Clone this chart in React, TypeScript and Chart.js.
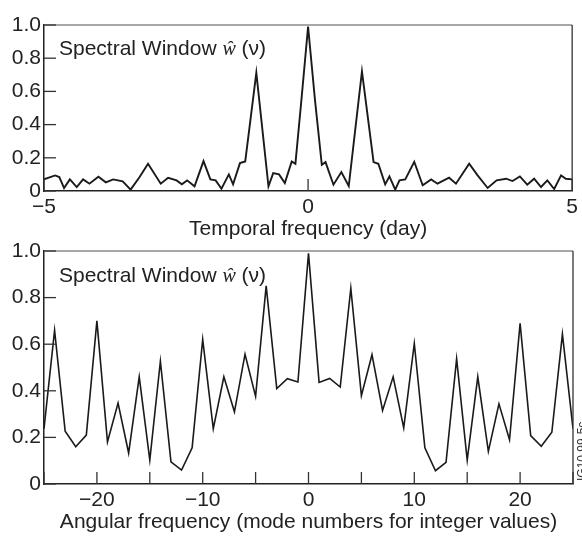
import React, { useEffect, useRef } from "react";
import { Chart, registerables } from "chart.js";

Chart.register(...registerables);

// ---------- data ----------
const temporalFrequency = [
  -5.0, -4.79, -4.71, -4.62, -4.51, -4.38, -4.26, -4.14, -3.97, -3.83, -3.69, -3.51, -3.36, -3.19,
  -3.03, -2.79, -2.65, -2.49, -2.39, -2.29, -2.15, -1.98, -1.85, -1.75, -1.64, -1.5, -1.42, -1.29,
  -1.19, -0.98, -0.75, -0.66, -0.55, -0.44, -0.31, -0.24, -0.12, 0.0, 0.13, 0.26, 0.33,
  0.48, 0.63, 0.77, 1.02, 1.24, 1.33, 1.46, 1.54, 1.65, 1.73, 1.84, 2.01, 2.17, 2.33, 2.45, 2.67,
  2.8, 3.05, 3.21, 3.4, 3.57, 3.75, 3.87, 4.01, 4.15, 4.28, 4.41, 4.53, 4.66, 4.79, 4.88, 5.0,
];
const temporalWindow = [
  0.07, 0.094, 0.084, 0.018, 0.07, 0.024, 0.07, 0.044, 0.086, 0.052, 0.07, 0.058, 0.008, 0.084,
  0.164, 0.044, 0.08, 0.064, 0.04, 0.064, 0.028, 0.18, 0.07, 0.064, 0.014, 0.1, 0.04, 0.168,
  0.178, 0.712, 0.028, 0.108, 0.1, 0.048, 0.178, 0.164, 0.57, 0.99, 0.55, 0.158, 0.174,
  0.038, 0.114, 0.03, 0.72, 0.174, 0.164, 0.04, 0.088, 0.008, 0.064, 0.07, 0.176, 0.034, 0.07, 0.044, 0.08,
  0.044, 0.164, 0.094, 0.018, 0.064, 0.074, 0.06, 0.088, 0.038, 0.074, 0.024, 0.064, 0.012, 0.094, 0.074, 0.07,
];

const modeNumbers = [
  -25, -24, -23, -22, -21, -20, -19, -18, -17, -16, -15, -14, -13, -12, -11, -10, -9, -8, -7, -6, -5,
  -4, -3, -2, -1, 0, 1, 2, 3, 4, 5, 6, 7, 8, 9, 10, 11, 12, 13, 14, 15, 16, 17, 18, 19, 20, 21, 22,
  23, 24, 25,
];
const angularWindow = [
  0.237, 0.66, 0.227, 0.16, 0.21, 0.7, 0.18, 0.347, 0.133, 0.46, 0.103, 0.527, 0.095, 0.06, 0.155,
  0.62, 0.237, 0.46, 0.31, 0.557, 0.376, 0.85, 0.41, 0.452, 0.438, 0.99, 0.436, 0.453, 0.416, 0.84,
  0.379, 0.555, 0.316, 0.46, 0.241, 0.603, 0.155, 0.057, 0.093, 0.537, 0.103, 0.46, 0.14, 0.344,
  0.19, 0.69, 0.208, 0.162, 0.222, 0.643, 0.237,
];

const yTickValues = [0, 0.2, 0.4, 0.6, 0.8, 1.0];
const temporalTickValues = [-5, 0, 5];
const temporalLabelValues = [-5, 0, 5];
const angularTickValues = [-25, -20, -15, -10, -5, 0, 5, 10, 15, 20, 25];
const angularLabelValues = [-20, -10, 0, 10, 20];

const legendLabel = "Spectral Window ";
const legendSymbol = "\u0175";
const legendArg = " (\u03bd)";
const topAxisTitle = "Temporal frequency (day)";
const bottomAxisTitle = "Angular frequency (mode numbers for integer values)";
const figureId = "IG10 99-5c";

// ---------- styling ----------
const SANS = "'Liberation Sans', Arial, Helvetica, sans-serif";
const SERIF = "'Liberation Serif', 'DejaVu Serif', serif";
const TEXT = "#222";

const fmtX = (v: number) => (v < 0 ? "\u2212" + Math.abs(v) : String(v));
const fmtY = (v: number) => (v === 0 ? "0" : v.toFixed(1));

type PanelOpts = {
  xs: number[];
  ys: number[];
  xMin: number;
  xMax: number;
  xTicks: number[];
  xLabels: number[];
  title: string;
  padTop: number;
  xAxisHeight: number;
  lineWidth: number;
  legendX: number;
  legendBaseline: number;
  showId: boolean;
};

function makeDecor(o: PanelOpts) {
  return {
    id: "decor",
    afterDraw(chart: any) {
      const { ctx, chartArea } = chart;
      const { left, right, top, bottom } = chartArea;
      const x = chart.scales.x;
      const y = chart.scales.y;
      ctx.save();
      // frame top & right
      ctx.lineWidth = 1.3;
      ctx.strokeStyle = "#8a8a8a";
      ctx.beginPath();
      ctx.moveTo(left, top);
      ctx.lineTo(right, top);
      ctx.stroke();
      ctx.strokeStyle = "#333";
      ctx.beginPath();
      ctx.moveTo(right, top);
      ctx.lineTo(right, bottom);
      ctx.stroke();
      // inward ticks
      ctx.strokeStyle = "#333";
      ctx.lineWidth = 1.3;
      yTickValues.forEach((v) => {
        const py = y.getPixelForValue(v);
        ctx.beginPath();
        ctx.moveTo(left, py);
        ctx.lineTo(left + 12, py);
        ctx.stroke();
      });
      o.xTicks.forEach((v) => {
        const px = x.getPixelForValue(v);
        ctx.beginPath();
        ctx.moveTo(px, bottom);
        ctx.lineTo(px, bottom - 12);
        ctx.stroke();
      });
      // legend text
      ctx.fillStyle = TEXT;
      ctx.textBaseline = "alphabetic";
      ctx.textAlign = "left";
      let cx = o.legendX;
      ctx.font = `21px ${SANS}`;
      ctx.fillText(legendLabel, cx, o.legendBaseline);
      cx += ctx.measureText(legendLabel).width;
      ctx.font = `italic 20px ${SERIF}`;
      ctx.fillText(legendSymbol, cx, o.legendBaseline);
      cx += ctx.measureText(legendSymbol).width;
      ctx.font = `21px ${SANS}`;
      ctx.fillText(legendArg, cx, o.legendBaseline);
      // figure id
      if (o.showId) {
        ctx.save();
        ctx.translate(586, bottom - 3);
        ctx.rotate(-Math.PI / 2);
        ctx.font = `12px ${SANS}`;
        ctx.fillStyle = "#333";
        ctx.textBaseline = "alphabetic";
        ctx.fillText(figureId, 0, 0);
        ctx.restore();
      }
      ctx.restore();
    },
  };
}

function makeConfig(o: PanelOpts): any {
  return {
    type: "scatter",
    data: {
      datasets: [
        {
          data: o.xs.map((xv, i) => ({ x: xv, y: o.ys[i] })),
          showLine: true,
          borderColor: "#1a1a1a",
          borderWidth: o.lineWidth,
          pointRadius: 0,
          tension: 0,
          fill: false,
        },
      ],
    },
    options: {
      responsive: false,
      animation: false,
      devicePixelRatio: 1,
      layout: { padding: { left: 0, right: 9, top: o.padTop, bottom: 0 } },
      plugins: { legend: { display: false }, tooltip: { enabled: false }, title: { display: false } },
      scales: {
        x: {
          type: "linear",
          min: o.xMin,
          max: o.xMax,
          afterBuildTicks: (s: any) => {
            s.ticks = o.xLabels.map((v) => ({ value: v }));
          },
          afterFit: (s: any) => {
            s.height = o.xAxisHeight;
          },
          ticks: {
            callback: (v: any) => fmtX(Number(v)),
            font: { family: SANS, size: 21 },
            color: TEXT,
            padding: 4,
            maxRotation: 0,
            autoSkip: false,
          },
          grid: { display: false, drawTicks: false },
          border: { display: true, color: "#222", width: 1.5 },
          title: {
            display: true,
            text: o.title,
            font: { family: SANS, size: 21 },
            color: TEXT,
            padding: { top: 0, bottom: 3 },
          },
        },
        y: {
          type: "linear",
          min: 0,
          max: 1,
          afterBuildTicks: (s: any) => {
            s.ticks = yTickValues.map((v) => ({ value: v }));
          },
          afterFit: (s: any) => {
            s.width = 44;
          },
          ticks: {
            callback: (v: any) => fmtY(Number(v)),
            font: { family: SANS, size: 21 },
            color: TEXT,
            padding: 3,
          },
          grid: { display: false, drawTicks: false },
          border: { display: true, color: "#222", width: 1.5 },
        },
      },
    },
    plugins: [makeDecor(o)],
  };
}

const topPanel: PanelOpts = {
  xs: temporalFrequency,
  ys: temporalWindow,
  xMin: -5,
  xMax: 5,
  xTicks: temporalTickValues,
  xLabels: temporalLabelValues,
  title: topAxisTitle,
  padTop: 25,
  xAxisHeight: 54,
  lineWidth: 1.9,
  legendX: 59,
  legendBaseline: 55,
  showId: false,
};

const bottomPanel: PanelOpts = {
  xs: modeNumbers,
  ys: angularWindow,
  xMin: -25,
  xMax: 25,
  xTicks: angularTickValues,
  xLabels: angularLabelValues,
  title: bottomAxisTitle,
  padTop: 16,
  xAxisHeight: 54,
  lineWidth: 1.6,
  legendX: 59,
  legendBaseline: 47,
  showId: true,
};

function Panel({ opts, top, height }: { opts: PanelOpts; top: number; height: number }) {
  const ref = useRef<HTMLCanvasElement | null>(null);
  useEffect(() => {
    if (!ref.current) return;
    const chart = new Chart(ref.current, makeConfig(opts));
    return () => chart.destroy();
  }, [opts]);
  return (
    <canvas
      ref={ref}
      width={582}
      height={height}
      style={{ position: "absolute", left: 0, top, width: 582, height }}
    />
  );
}

export default function App() {
  return (
    <div
      style={{
        position: "absolute",
        left: 0,
        top: 0,
        width: 582,
        height: 538,
        background: "#fff",
        overflow: "hidden",
      }}
    >
      <Panel opts={topPanel} top={0} height={245} />
      <Panel opts={bottomPanel} top={235} height={303} />
    </div>
  );
}
